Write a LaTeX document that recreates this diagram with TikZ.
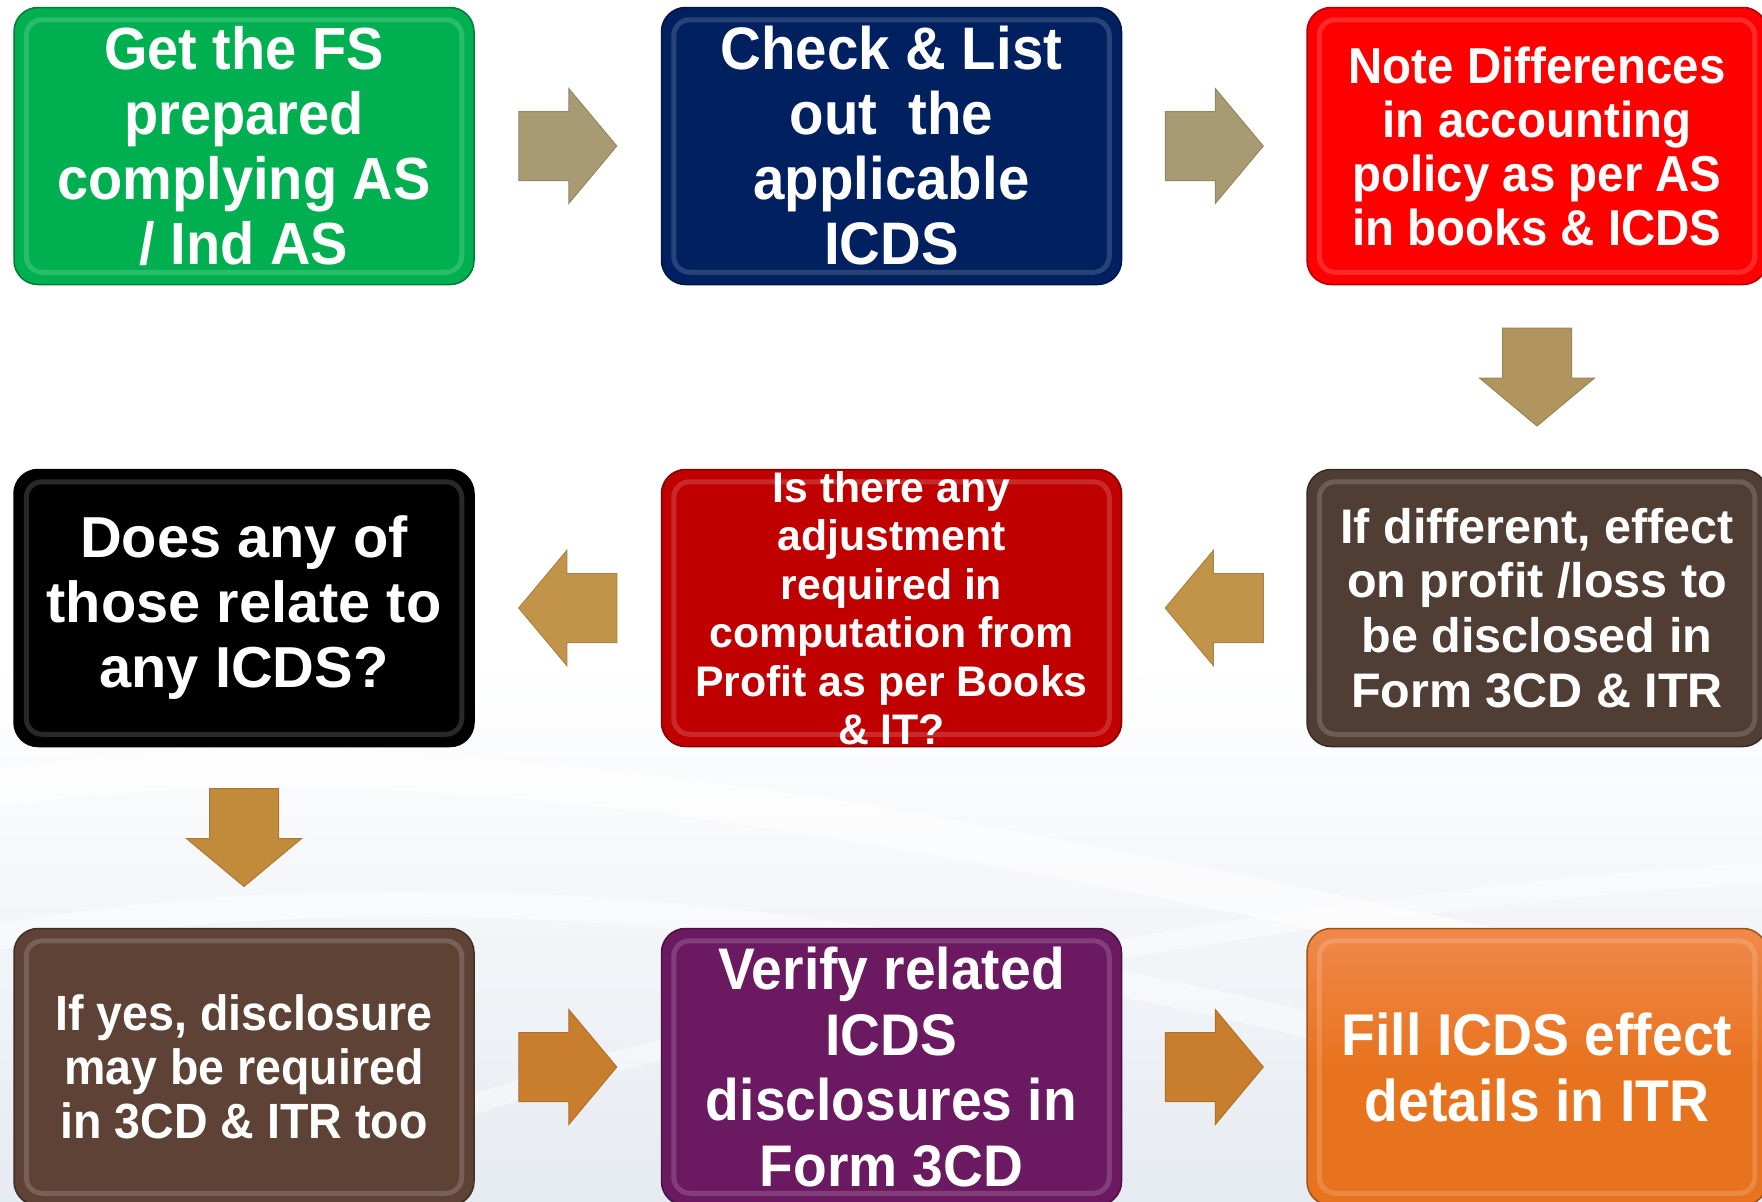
\documentclass[tikz,border=0pt]{standalone}
\usepackage{fontspec}
\setmainfont{Liberation Sans}
\newfontfamily\condfont{Liberation Sans}[FakeStretch=0.94]
\usetikzlibrary{calc}
\definecolor{cGreen}{HTML}{00B050}
\definecolor{cNavy}{HTML}{002060}
\definecolor{cRed}{HTML}{FF0000}
\definecolor{cBlack}{HTML}{000000}
\definecolor{cDarkRed}{HTML}{C00000}
\definecolor{cBrownA}{HTML}{503E34}
\definecolor{cBrownB}{HTML}{5E4236}
\definecolor{cPurple}{HTML}{6B1A61}
\definecolor{cOrange}{HTML}{E8731F}
\definecolor{cOrangeTop}{HTML}{F0894A}
\definecolor{arrA}{HTML}{A89A72}
\definecolor{arrB}{HTML}{B0955F}
\definecolor{arrC}{HTML}{C2944A}
\definecolor{arrD}{HTML}{C28A3B}
\definecolor{arrE}{HTML}{C97E2E}
\definecolor{bgBlue}{HTML}{E6EBF1}
\tikzset{
  boxbase/.style={rounded corners=24pt, minimum width=460pt, minimum height=277pt,
    inner sep=0pt, draw=#1!70!black, line width=1.5pt, fill=#1},
  txt/.style={text=white, align=center, inner sep=0pt},
  blockarrow/.pic={\path[pic actions] (-49,-34.5) -- (1,-34.5) -- (1,-57.5) -- (49,0)
     -- (1,57.5) -- (1,34.5) -- (-49,34.5) -- cycle;},
  arr/.style={fill=#1, draw=#1!88!black, line width=1pt}
}
\newcommand\bevel[1]{%
  \draw[white, opacity=0.16, line width=5pt, rounded corners=16pt]
    ($(#1.north west)+(13,13)$) rectangle ($(#1.south east)+(-13,-13)$);}
\begin{document}
\begin{tikzpicture}[x=1pt,y=-1pt]
\clip (0,0) rectangle (1762,1202);
\fill[white] (0,0) rectangle (1762,1202);
% background wave
\fill[top color=white, bottom color=bgBlue] (0,660) rectangle (1762,1202);
\draw[white, opacity=0.6, line width=38pt] (-20,790) .. controls (500,710) and (1100,870) .. (1800,1010);
\draw[white, opacity=0.45, line width=26pt] (-20,940) .. controls (600,830) and (1200,990) .. (1800,1150);
\draw[white, opacity=0.4, line width=20pt] (200,1202) .. controls (700,1000) and (1300,900) .. (1800,870);

% boxes
\node[boxbase=cGreen]   (b1) at (244,146)   {};
\node[boxbase=cNavy]    (b2) at (891.5,146) {};
\node[boxbase=cRed]     (b3) at (1537,146)  {};
\node[boxbase=cBlack]   (b4) at (244,608)   {};
\node[boxbase=cDarkRed] (b5) at (891.5,608) {};
\node[boxbase=cBrownA]  (b6) at (1537,608)  {};
\node[boxbase=cBrownB]  (b7) at (244,1067)  {};
\node[boxbase=cPurple]  (b8) at (891.5,1067) {};
\node[boxbase=cOrange, top color=cOrangeTop, bottom color=cOrange, middle color=cOrange] (b9) at (1537,1067) {};
\foreach \b in {b1,b2,b3,b4,b5,b6,b7,b8,b9} {\bevel{\b}}

% texts
\node[txt, font=\condfont\bfseries\fontsize{59.5}{65}\selectfont] (t1) at (b1) {Get the FS\\prepared\\complying AS\\/ Ind AS};
\node[txt, font=\condfont\bfseries\fontsize{60}{65}\selectfont] (t2) at (b2) {Check \& List\\out\ \ the\\applicable\\ICDS};
\node[txt, font=\condfont\bfseries\fontsize{50.5}{54}\selectfont] (t3) at (b3) {Note Differences\\in accounting\\policy as per AS\\in books \& ICDS};
\node[txt, font=\bfseries\fontsize{57.8}{65}\selectfont] (t4) at (b4) {Does any of\\those relate to\\any ICDS?};
\node[txt, font=\bfseries\fontsize{42.8}{48.5}\selectfont] (t5) at (b5) {Is there any\\adjustment\\required in\\computation from\\Profit as per Books\\\& IT?};
\node[txt, font=\bfseries\fontsize{48.5}{54.7}\selectfont] (t6) at (b6) {If different, effect\\on profit /loss to\\be disclosed in\\Form 3CD \& ITR};
\node[txt, font=\condfont\bfseries\fontsize{49.5}{54}\selectfont] (t7) at (b7) {If yes, disclosure\\may be required\\in 3CD \& ITR too};
\node[txt, font=\condfont\bfseries\fontsize{58.7}{65.5}\selectfont] (t8) at (b8) {Verify related\\ICDS\\disclosures in\\Form 3CD};
\node[txt, font=\condfont\bfseries\fontsize{58.9}{66}\selectfont] (t9) at (b9) {Fill ICDS effect\\details in ITR};

% arrows
\coordinate (a12) at ($(b1.east)!0.5!(b2.west)$);
\coordinate (a23) at ($(b2.east)!0.5!(b3.west)$);
\coordinate (a36) at ($(b3.south)!0.5!(b6.north)$);
\coordinate (a65) at ($(b6.west)!0.5!(b5.east)$);
\coordinate (a54) at ($(b5.west)!0.5!(b4.east)$);
\coordinate (a47) at ($(b4.south)!0.5!(b7.north)$);
\coordinate (a78) at ($(b7.east)!0.5!(b8.west)$);
\coordinate (a89) at ($(b8.east)!0.5!(b9.west)$);
\pic[arr=arrA] at (a12) {blockarrow};
\pic[arr=arrA] at (a23) {blockarrow};
\pic[arr=arrB, rotate=-90] at (a36) {blockarrow};
\pic[arr=arrC, rotate=180] at (a65) {blockarrow};
\pic[arr=arrC, rotate=180] at (a54) {blockarrow};
\pic[arr=arrD, rotate=-90] at (a47) {blockarrow};
\pic[arr=arrE] at (a78) {blockarrow};
\pic[arr=arrE] at (a89) {blockarrow};
\end{tikzpicture}
\end{document}
